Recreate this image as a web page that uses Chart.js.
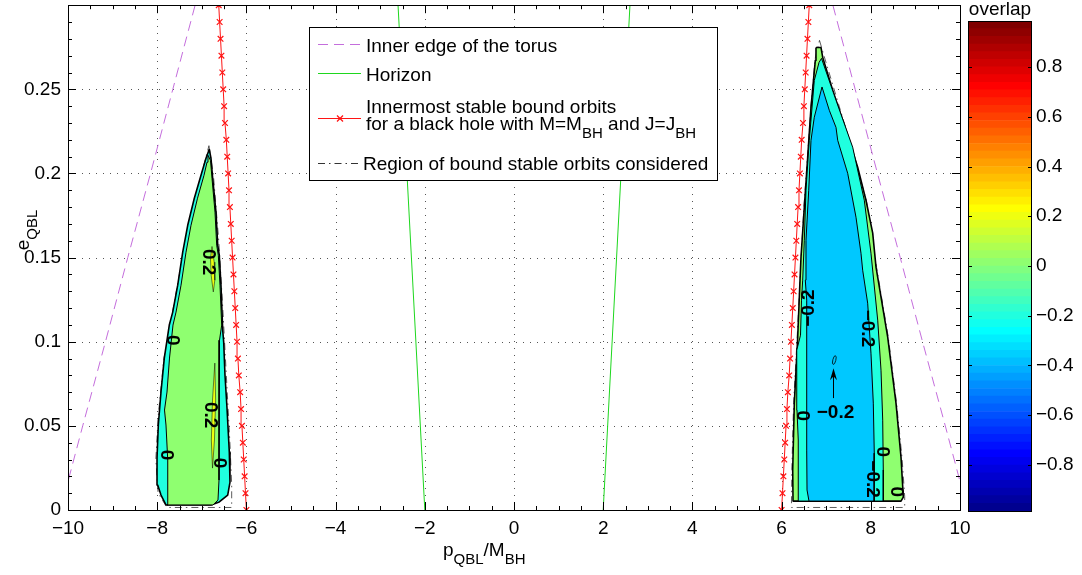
<!DOCTYPE html>
<html>
<head>
<meta charset="utf-8">
<script src="https://cdn.jsdelivr.net/npm/chart.js@4.4.1/dist/chart.umd.min.js"></script>
<style>
  html, body { margin: 0; padding: 0; background: #fff; }
  #wrap { position: relative; width: 1082px; height: 575px; }
  #plot { position: absolute; left: 0; top: 0; }
  #cbar { position: absolute; left: 960px; top: 0; }
</style>
</head>
<body>
<div id="wrap">
  <canvas id="plot" width="1082" height="575"></canvas>
  <canvas id="cbar" width="122" height="575"></canvas>
</div>
<script>
// axes
const xTicks = [-10, -8, -6, -4, -2, 0, 2, 4, 6, 8, 10];
const xTickLabels = ['\u221210', '\u22128', '\u22126', '\u22124', '\u22122', '0', '2', '4', '6', '8', '10'];
const yTicks = [0, 0.05, 0.1, 0.15, 0.2, 0.25];
const yTickLabels = ['0', '0.05', '0.1', '0.15', '0.2', '0.25'];
const cbarTicks = [0.8, 0.6, 0.4, 0.2, 0, -0.2, -0.4, -0.6, -0.8];
const cbarTickLabels = ['0.8', '0.6', '0.4', '0.2', '0', '\u22120.2', '\u22120.4', '\u22120.6', '\u22120.8'];
const cbarMin = -0.985, cbarMax = 0.985;

// inner edge of the torus (right side, left side is mirrored)
const torusE = [0, 0.05, 0.1, 0.15, 0.2, 0.25, 0.3];
const torusP = [10.17, 9.67, 9.16, 8.66, 8.15, 7.65, 7.15];

// horizon
const horizonE = [0, 0.3];
const horizonP = [2.0, 2.6];

// innermost stable bound orbits
const iscoE = [0, 0.01, 0.02, 0.03, 0.04, 0.05, 0.06, 0.07, 0.08, 0.09, 0.10, 0.11, 0.12, 0.13, 0.14, 0.15,
               0.16, 0.17, 0.18, 0.19, 0.20, 0.21, 0.22, 0.23, 0.24, 0.25, 0.26, 0.27, 0.28, 0.29, 0.30];
const iscoP = [6.00, 6.02, 6.04, 6.06, 6.08, 6.10, 6.12, 6.14, 6.17, 6.19, 6.21, 6.23, 6.25, 6.27, 6.29, 6.31,
               6.33, 6.35, 6.37, 6.39, 6.41, 6.43, 6.45, 6.48, 6.50, 6.52, 6.54, 6.56, 6.58, 6.60, 6.62];

// contour regions [p, e]
const leftOuter = [[-6.832, 0.2144], [-6.794, 0.2090], [-6.756, 0.1971], [-6.682, 0.1770], [-6.643, 0.1574], [-6.608, 0.1514],
  [-6.570, 0.1336], [-6.531, 0.1069], [-6.509, 0.0998], [-6.480, 0.0802], [-6.435, 0.0606], [-6.383, 0.0344], [-6.368, 0.0166],
  [-6.419, 0.0089], [-6.608, 0.0048], [-6.794, 0.0030], [-7.803, 0.0030], [-7.915, 0.0089], [-7.989, 0.0148], [-8.004, 0.0309],
  [-7.975, 0.0505], [-7.915, 0.0701], [-7.841, 0.0903], [-7.729, 0.1099], [-7.652, 0.1176], [-7.540, 0.1336], [-7.428, 0.1532],
  [-7.316, 0.1692], [-7.168, 0.1853], [-7.018, 0.1989], [-6.906, 0.2090]];
const leftGreen = [[-6.861, 0.2108], [-6.805, 0.2078], [-6.771, 0.1971], [-6.704, 0.1770], [-6.666, 0.1574], [-6.630, 0.1514],
  [-6.592, 0.1336], [-6.554, 0.1099], [-6.603, 0.1009], [-6.614, 0.0772], [-6.614, 0.0416], [-6.614, 0.0178], [-6.637, 0.0059],
  [-6.749, 0.0030], [-7.780, 0.0030], [-7.758, 0.0071], [-7.769, 0.0297], [-7.803, 0.0505], [-7.836, 0.0594], [-7.780, 0.0701],
  [-7.724, 0.0903], [-7.646, 0.1099], [-7.578, 0.1176], [-7.466, 0.1336], [-7.354, 0.1532], [-7.242, 0.1692], [-7.096, 0.1853],
  [-6.951, 0.1989], [-6.883, 0.2067]];
const leftYellowA = [[-6.771, 0.1566], [-6.722, 0.1473], [-6.708, 0.1366], [-6.742, 0.1296], [-6.790, 0.1395], [-6.805, 0.1496]];
const leftYellowB = [[-6.708, 0.0873], [-6.690, 0.0653], [-6.716, 0.0416], [-6.760, 0.0249], [-6.786, 0.0416], [-6.760, 0.0653]];

const rightOuter = [[6.771, 0.2749], [6.883, 0.2749], [6.922, 0.2690], [7.146, 0.2494], [7.444, 0.2257], [7.706, 0.2037],
  [7.892, 0.1841], [8.043, 0.1645], [8.117, 0.1443], [8.379, 0.1027], [8.565, 0.0635], [8.677, 0.0315], [8.729, 0.0077],
  [8.677, 0.0053], [6.256, 0.0053], [6.249, 0.0238], [6.285, 0.0635], [6.361, 0.1027], [6.413, 0.1366], [6.435, 0.1502],
  [6.509, 0.1799], [6.585, 0.2096], [6.659, 0.2393], [6.756, 0.2672]];
const rightCyan = [[6.895, 0.2684], [7.220, 0.2435], [7.594, 0.2156], [7.854, 0.1841], [8.004, 0.1526], [8.155, 0.1128],
  [8.229, 0.0831], [8.267, 0.0534], [8.280, 0.0238], [8.280, 0.0053], [6.390, 0.0053], [6.379, 0.0238], [6.368, 0.0416],
  [6.345, 0.0594], [6.334, 0.0772], [6.345, 0.0950], [6.424, 0.1039], [6.446, 0.1247], [6.473, 0.1366], [6.509, 0.1603],
  [6.547, 0.1900], [6.621, 0.2197], [6.733, 0.2553], [6.839, 0.2660]];
const rightBlue = [[6.906, 0.2514], [7.070, 0.2375], [7.220, 0.2274], [7.258, 0.2197], [7.482, 0.2001], [7.668, 0.1740],
  [7.780, 0.1526], [7.818, 0.1425], [7.930, 0.1229], [8.004, 0.0932], [8.056, 0.0635], [8.078, 0.0338], [8.078, 0.0077],
  [8.072, 0.0053], [6.614, 0.0053], [6.570, 0.0119], [6.563, 0.0356], [6.563, 0.0653], [6.563, 0.0950], [6.563, 0.1247],
  [6.531, 0.1366], [6.547, 0.1603], [6.608, 0.1900], [6.659, 0.2197], [6.733, 0.2334]];

// region of bound stable orbits considered
const leftRegion = [[-6.84, 0.2165], [-6.74, 0.1990], [-6.62, 0.1600], [-6.53, 0.1200], [-6.45, 0.0800], [-6.37, 0.0400],
  [-6.33, 0.0150], [-6.33, 0.0015], [-7.78, 0.0015], [-7.98, 0.0100], [-8.03, 0.0300], [-7.98, 0.0550], [-7.85, 0.0900],
  [-7.64, 0.1200], [-7.40, 0.1550], [-7.10, 0.1900]];
const rightRegion = [[6.85, 0.2791], [6.95, 0.2700], [7.45, 0.2260], [7.90, 0.1840], [8.13, 0.1440], [8.39, 0.1030],
  [8.58, 0.0630], [8.70, 0.0310], [8.76, 0.0080], [8.76, 0.0015], [6.22, 0.0015], [6.23, 0.0240], [6.27, 0.0640],
  [6.35, 0.1030], [6.42, 0.1400], [6.50, 0.1800], [6.58, 0.2100], [6.66, 0.2400], [6.75, 0.2680]];

// contour labels
const labelText = ['0.2', '0', '0.2', '0', '0', '\u22120.2', '\u22120.2', '0', '0', '\u22120.2', '0'];
const labelP = [-6.861, -7.668, -6.805, -7.803, -6.608, 6.614, 7.930, 6.473, 8.267, 8.023, 8.565];
const labelE = [0.1473, 0.1009, 0.0564, 0.0327, 0.0279, 0.1200, 0.1079, 0.0560, 0.0346, 0.0184, 0.0109];
const labelRot = [90, 90, 90, 90, 90, -90, 90, 90, 90, 90, 90];

// arrow annotation
const annotText = '\u22120.2';
const annotP = 7.208, annotE = 0.0576;
const arrowP = 7.146, arrowFromE = 0.0665, arrowToE = 0.0843;
const spotP = 7.182, spotE = 0.0891;

const legendLabels = ['Inner edge of the torus', 'Horizon', 'Innermost stable bound orbits', 'Region of bound stable orbits considered'];

const FONT = '"Liberation Sans", Arial, Helvetica, sans-serif';
const MAIN = '19px ' + FONT;
const SUB = '15px ' + FONT;
const torusColor = 'rgb(196,110,220)';
const horizonColor = 'rgb(30,215,30)';
const iscoColor = 'rgb(255,20,20)';
const regionColor = '#333';

Chart.defaults.font.family = FONT;
Chart.defaults.font.size = 19;
Chart.defaults.color = '#000';

function jetMap(m) {
  const n = Math.ceil(m / 4);
  const u = [];
  for (let i = 1; i <= n; i++) u.push(i / n);
  for (let i = 1; i < n; i++) u.push(1);
  for (let i = n; i >= 1; i--) u.push(i / n);
  const g0 = Math.ceil(n / 2) - (m % 4 === 1 ? 1 : 0);
  const rows = Array.from({ length: m }, () => [0, 0, 0]);
  u.forEach((val, i) => {
    const gi = g0 + i + 1, ri = gi + n, bi = gi - n;
    if (ri >= 1 && ri <= m) rows[ri - 1][0] = val;
    if (gi >= 1 && gi <= m) rows[gi - 1][1] = val;
    if (bi >= 1 && bi <= m) rows[bi - 1][2] = val;
  });
  return rows.map(r => 'rgb(' + r.map(c => Math.round(c * 255)).join(',') + ')');
}
const jet = jetMap(64);

const toPts = (ps, es) => ps.map((p, i) => ({ x: p, y: es[i] }));
const closePoly = arr => arr.concat([arr[0]]).map(([p, e]) => ({ x: p, y: e }));

function polyDataset(arr, color, width, order) {
  return { data: closePoly(arr), showLine: true, fill: 'shape', backgroundColor: color, borderColor: '#000',
           borderWidth: width, borderJoinStyle: 'round', pointRadius: 0, order: order };
}
function regionDataset(arr) {
  return { data: closePoly(arr), showLine: true, fill: false, borderColor: regionColor, borderWidth: 0.8,
           borderDash: [7, 4, 1.5, 4], pointRadius: 0, order: 5 };
}
function curveDataset(points, color, dash, order, marker) {
  return { data: points, showLine: true, fill: false, borderColor: color, borderWidth: 1, borderDash: dash,
           pointRadius: marker ? 4 : 0, pointStyle: 'crossRot', pointBorderColor: color, pointBorderWidth: 1.2,
           order: order };
}

function richText(ctx, parts, x, y, align, mainFont, subFont, shift) {
  let w = 0;
  parts.forEach(([t, sub]) => { ctx.font = sub ? subFont : mainFont; w += ctx.measureText(t).width; });
  let cx = align === 'center' ? x - w / 2 : x;
  ctx.textAlign = 'left';
  parts.forEach(([t, sub]) => {
    ctx.font = sub ? subFont : mainFont;
    ctx.fillText(t, cx, sub ? y + shift : y);
    cx += ctx.measureText(t).width;
  });
  ctx.font = mainFont;
}

function seg(ctx, x0, y0, x1, y1) {
  ctx.beginPath(); ctx.moveTo(x0, y0); ctx.lineTo(x1, y1); ctx.stroke();
}

const decor = {
  id: 'decor',
  beforeDatasetsDraw(chart) {
    const { ctx, chartArea: a, scales: { x, y } } = chart;
    ctx.save();
    ctx.strokeStyle = '#555';
    ctx.lineWidth = 1;
    ctx.setLineDash([1, 6]);
    xTicks.forEach(v => {
      if (v <= x.min || v >= x.max) return;
      const px = Math.round(x.getPixelForValue(v)) + 0.5;
      seg(ctx, px, a.bottom, px, a.top);
    });
    yTicks.forEach(v => {
      if (v <= y.min || v >= y.max) return;
      const py = Math.round(y.getPixelForValue(v)) + 0.5;
      seg(ctx, a.left, py, a.right, py);
    });
    ctx.restore();
  },
  afterDatasetsDraw(chart) {
    const { ctx, chartArea: a, scales: { x, y } } = chart;
    ctx.save();

    // contour labels
    ctx.fillStyle = '#000';
    ctx.font = 'bold 19px ' + FONT;
    ctx.textAlign = 'center';
    ctx.textBaseline = 'middle';
    labelText.forEach((t, i) => {
      ctx.save();
      ctx.translate(x.getPixelForValue(labelP[i]), y.getPixelForValue(labelE[i]));
      ctx.rotate(labelRot[i] * Math.PI / 180);
      ctx.fillText(t, 0, 0);
      ctx.restore();
    });
    ctx.fillText(annotText, x.getPixelForValue(annotP), y.getPixelForValue(annotE));

    // arrow and small closed contour
    ctx.strokeStyle = '#000';
    ctx.lineWidth = 1;
    const ax = Math.round(x.getPixelForValue(arrowP)) + 0.5;
    const ay0 = y.getPixelForValue(arrowFromE), ay1 = y.getPixelForValue(arrowToE);
    seg(ctx, ax, ay0, ax, ay1 + 6);
    ctx.beginPath();
    ctx.moveTo(ax, ay1); ctx.lineTo(ax - 3.5, ay1 + 12); ctx.lineTo(ax, ay1 + 8); ctx.lineTo(ax + 3.5, ay1 + 12);
    ctx.closePath(); ctx.fill();
    ctx.lineWidth = 0.8;
    ctx.beginPath();
    ctx.ellipse(x.getPixelForValue(spotP), y.getPixelForValue(spotE), 1.5, 4.5, 0.25, 0, Math.PI * 2);
    ctx.stroke();

    // ticks and frame
    ctx.lineWidth = 1;
    ctx.beginPath();
    for (let k = -20; k <= 20; k++) {
      const v = k / 2;
      const px = Math.round(x.getPixelForValue(v)) + 0.5;
      const len = k % 4 === 0 ? 8 : 4;
      ctx.moveTo(px, a.bottom); ctx.lineTo(px, a.bottom - len);
      ctx.moveTo(px, a.top); ctx.lineTo(px, a.top + len);
    }
    for (let k = 0; k <= 30; k++) {
      const py = Math.round(y.getPixelForValue(k / 100)) + 0.5;
      const len = k % 5 === 0 ? 8 : 4;
      ctx.moveTo(a.left, py); ctx.lineTo(a.left + len, py);
      ctx.moveTo(a.right, py); ctx.lineTo(a.right - len, py);
    }
    ctx.stroke();
    ctx.strokeRect(Math.round(a.left) + 0.5, Math.round(a.top) + 0.5,
                   Math.round(a.right - a.left), Math.round(a.bottom - a.top));

    // legend
    ctx.fillStyle = '#fff';
    ctx.fillRect(309, 27, 409, 154);
    ctx.strokeStyle = '#000';
    ctx.strokeRect(309.5, 27.5, 408, 153);
    ctx.setLineDash([10, 6]); ctx.strokeStyle = torusColor; seg(ctx, 318, 44.5, 361, 44.5);
    ctx.setLineDash([]); ctx.strokeStyle = horizonColor; seg(ctx, 318, 73.5, 361, 73.5);
    ctx.strokeStyle = iscoColor; seg(ctx, 318, 118.5, 361, 118.5);
    ctx.lineWidth = 1.2;
    seg(ctx, 337, 115.5, 343, 121.5); seg(ctx, 337, 121.5, 343, 115.5);
    ctx.lineWidth = 1;
    ctx.setLineDash([7, 4, 1.5, 4]); ctx.strokeStyle = regionColor; seg(ctx, 318, 163.5, 358, 163.5);
    ctx.setLineDash([]);
    ctx.fillStyle = '#000';
    ctx.textBaseline = 'alphabetic';
    ctx.textAlign = 'left';
    ctx.font = MAIN;
    ctx.fillText(legendLabels[0], 366, 52);
    ctx.fillText(legendLabels[1], 366, 81);
    ctx.fillText(legendLabels[2], 366, 112.5);
    richText(ctx, [['for a black hole with M=M', 0], ['BH', 1], [' and J=J', 0], ['BH', 1]], 366, 130, 'left', MAIN, SUB, 8);
    ctx.font = MAIN;
    ctx.textAlign = 'left';
    ctx.fillText(legendLabels[3], 363, 170);

    // axis titles
    richText(ctx, [['p', 0], ['QBL', 1], ['/M', 0], ['BH', 1]], 443, 556, 'left', MAIN, SUB, 8);
    ctx.save();
    ctx.translate(29, 230);
    ctx.rotate(-Math.PI / 2);
    richText(ctx, [['e', 0], ['QBL', 1]], 0, 0, 'center', MAIN, SUB, 8);
    ctx.restore();

    ctx.restore();
  }
};

new Chart(document.getElementById('plot'), {
  type: 'scatter',
  data: {
    datasets: [
      polyDataset(leftYellowA, 'rgb(239,255,16)', 0.5, 1),
      polyDataset(leftYellowB, 'rgb(239,255,16)', 0.5, 1),
      polyDataset(rightBlue, 'rgb(0,200,255)', 1, 2),
      polyDataset(leftGreen, 'rgb(143,255,112)', 1, 3),
      polyDataset(rightCyan, 'rgb(32,255,223)', 1, 3),
      polyDataset(leftOuter, 'rgb(32,255,223)', 1.6, 4),
      polyDataset(rightOuter, 'rgb(143,255,112)', 1.6, 4),
      regionDataset(leftRegion),
      regionDataset(rightRegion),
      curveDataset(toPts(torusP.map(v => -v), torusE), torusColor, [10, 6], 6, false),
      curveDataset(toPts(torusP, torusE), torusColor, [10, 6], 6, false),
      curveDataset(toPts(horizonP.map(v => -v), horizonE), horizonColor, [], 6, false),
      curveDataset(toPts(horizonP, horizonE), horizonColor, [], 6, false),
      curveDataset(toPts(iscoP.map(v => -v), iscoE), iscoColor, [], 6, true),
      curveDataset(toPts(iscoP, iscoE), iscoColor, [], 6, true)
    ]
  },
  options: {
    responsive: false,
    animation: false,
    devicePixelRatio: 1,
    events: [],
    layout: { padding: { left: 0, top: 4, right: 122, bottom: 0 } },
    plugins: { legend: { display: false }, tooltip: { enabled: false } },
    scales: {
      x: {
        type: 'linear', min: -10, max: 10,
        grid: { display: false, drawTicks: false },
        border: { display: false },
        afterBuildTicks: s => { s.ticks = xTicks.map(v => ({ value: v })); },
        afterFit: s => { s.height = 65; s.paddingLeft = 0; s.paddingRight = 0; },
        ticks: { autoSkip: false, maxRotation: 0, minRotation: 0, padding: 7, color: '#000',
                 callback: (v, i) => xTickLabels[i] }
      },
      y: {
        type: 'linear', min: 0, max: 0.3,
        grid: { display: false, drawTicks: false },
        border: { display: false },
        afterBuildTicks: s => { s.ticks = yTicks.map(v => ({ value: v })); },
        afterFit: s => { s.width = 68; s.paddingTop = 0; s.paddingBottom = 0; },
        ticks: { autoSkip: false, padding: 7, color: '#000', callback: (v, i) => yTickLabels[i] }
      }
    }
  },
  plugins: [decor]
});

// colorbar
const cbarBands = [];
for (let i = 0; i < 64; i++) {
  const lo = cbarMin + (cbarMax - cbarMin) * i / 64;
  const hi = cbarMin + (cbarMax - cbarMin) * (i + 1) / 64;
  cbarBands.push({ data: [[lo, hi]], backgroundColor: jet[i], borderWidth: 0, grouped: false,
                   barPercentage: 1, categoryPercentage: 1 });
}

const cbarDecor = {
  id: 'cbarDecor',
  afterDatasetsDraw(chart) {
    const { ctx, chartArea: a, scales: { y } } = chart;
    ctx.save();
    ctx.strokeStyle = '#000';
    ctx.lineWidth = 1;
    const l = Math.round(a.left), r = Math.round(a.right), t = Math.round(a.top), b = Math.round(a.bottom);
    ctx.strokeRect(l + 0.5, t + 0.5, r - l - 1, b - t);
    ctx.beginPath();
    cbarTicks.forEach(v => {
      const py = Math.round(y.getPixelForValue(v)) + 0.5;
      ctx.moveTo(l, py); ctx.lineTo(l + 4, py);
      ctx.moveTo(r, py); ctx.lineTo(r - 4, py);
    });
    ctx.stroke();
    ctx.fillStyle = '#000';
    ctx.font = MAIN;
    ctx.textAlign = 'center';
    ctx.textBaseline = 'alphabetic';
    ctx.fillText('overlap', (l + r) / 2, 15);
    ctx.restore();
  }
};

new Chart(document.getElementById('cbar'), {
  type: 'bar',
  data: { labels: ['overlap'], datasets: cbarBands },
  options: {
    responsive: false,
    animation: false,
    devicePixelRatio: 1,
    events: [],
    layout: { padding: { left: 8, top: 21, right: 0, bottom: 64 } },
    plugins: { legend: { display: false }, tooltip: { enabled: false } },
    scales: {
      x: { display: false },
      y: {
        position: 'right', min: cbarMin, max: cbarMax,
        grid: { display: false, drawTicks: false },
        border: { display: false },
        afterBuildTicks: s => { s.ticks = cbarTicks.map(v => ({ value: v })); },
        afterFit: s => { s.width = 50; s.paddingTop = 0; s.paddingBottom = 0; },
        ticks: { padding: 4, color: '#000', callback: (v, i) => cbarTickLabels[i] }
      }
    }
  },
  plugins: [cbarDecor]
});
</script>
</body>
</html>
